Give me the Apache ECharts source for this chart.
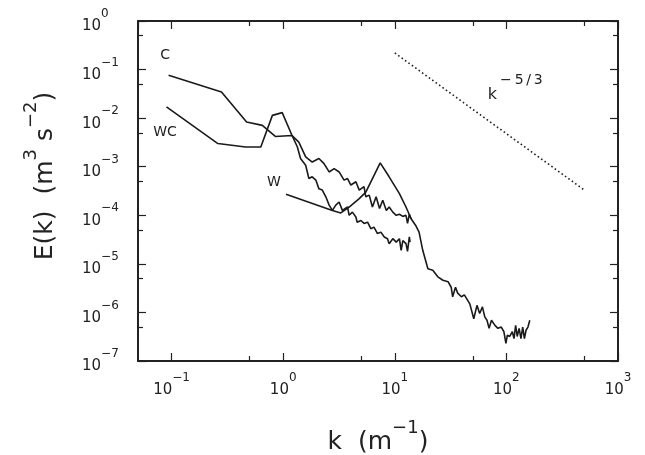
<!DOCTYPE html>
<html><head><meta charset="utf-8">
<script src="https://cdn.jsdelivr.net/npm/echarts@6/dist/echarts.min.js"></script>
<style>html,body{margin:0;padding:0;background:#fff}#c{width:645px;height:455px}</style>
</head><body><div id="c"></div>
<script>
// ---- tick values ----
const xMinorTicks = [0.5, 5, 50, 500];
const yMinorTicks = [0.5, 0.05, 0.005, 5e-4, 5e-5, 5e-6, 5e-7];

// ---- series C ----
const cK = [0.094, 0.28, 0.47, 0.65, 0.85, 1.2, 1.38, 1.59, 1.82, 2.09, 2.32, 2.58, 2.86, 3.17, 3.51, 3.77, 4.04, 4.48, 4.8, 5.3, 5.5, 5.9, 6.3, 6.8, 7.3, 7.8, 8.4, 8.9, 9.6, 10.3, 11, 11.8, 12.6, 13.0, 13.5, 14];
const cE = [0.076, 0.0345, 0.0083, 0.0071, 0.0042, 0.0044, 0.0032, 0.0016, 0.00125, 0.00148, 0.00116, 0.00078, 0.00091, 0.00078, 0.00053, 0.00057, 0.00042, 0.00049, 0.00033, 0.00039, 0.00024, 0.00026, 0.000148, 0.00024, 0.000138, 0.000204, 0.000126, 0.000148, 0.000116, 0.0001, 0.000105, 0.000095, 0.0001, 0.000068, 0.000105, 0.000085];

// ---- series WC ----
const wcK = [0.09, 0.26, 0.46, 0.63, 0.80, 0.98, 1.2, 1.34, 1.43, 1.59, 1.7, 1.82, 1.96, 2.09, 2.24, 2.41, 2.58, 2.76, 2.96, 3.17, 3.39, 3.77, 3.9, 4.17, 4.48, 4.6, 4.97, 5.3, 5.7, 6.1, 6.5, 7.0, 7.5, 8.05, 8.6, 8.9, 9.6, 10.3, 11, 11.4, 11.8, 12.6, 13, 13.5, 13.7];
const wcE = [0.017, 0.003, 0.00255, 0.00255, 0.0114, 0.013, 0.0044, 0.00255, 0.00148, 0.00107, 0.00057, 0.00062, 0.00053, 0.00035, 0.00033, 0.00024, 0.000162, 0.000126, 0.000162, 0.000188, 0.000126, 0.000148, 0.0001, 0.000116, 0.000092, 0.000072, 0.000078, 0.000068, 0.000072, 0.000053, 0.000057, 0.000042, 0.000045, 0.0000357, 0.000033, 0.000026, 0.000033, 0.000028, 0.000033, 0.000019, 0.00003, 0.000026, 0.000018, 0.000036, 0.000028];

// ---- series W ----
const wK = [1.06, 2.76, 3.28, 3.9, 4.8, 5.5, 7.4, 8.9, 11, 12.6, 14, 15.5, 16.5, 17.8, 19.8, 21.9, 24.3, 27, 30, 32, 33, 35, 36.6, 39.5, 42, 47, 51, 54.5, 57.6, 61, 64, 67, 70, 73.5, 79, 84, 90, 95, 99, 102, 107, 113, 117, 121, 125, 130, 135, 140, 145, 150, 156, 162];
const wE = [0.00027, 0.000126, 0.000112, 0.000148, 0.00022, 0.0003, 0.0012, 0.00062, 0.00028, 0.000148, 0.000085, 0.00006, 0.000045, 0.000019, 7.9e-6, 7.4e-6, 5.4e-6, 4.6e-6, 4.3e-6, 3.3e-6, 2.1e-6, 3.3e-6, 2.5e-6, 2.1e-6, 2.3e-6, 1.5e-6, 7.4e-7, 1.4e-6, 9.5e-7, 1.3e-6, 8.1e-7, 6.9e-7, 4.7e-7, 6.9e-7, 5.4e-7, 4.7e-7, 5e-7, 4e-7, 2.3e-7, 3.4e-7, 3.2e-7, 4e-7, 2.9e-7, 5.4e-7, 3.2e-7, 4.7e-7, 2.9e-7, 5e-7, 2.9e-7, 4.3e-7, 5e-7, 6.9e-7];

// ---- k^-5/3 reference ----
const refK = [10, 500];
const refE = [0.22, 3.3e-4];

const pairs = (a, b) => a.map((v, i) => [v, b[i]]);
const font = '"DejaVu Sans", "Liberation Sans", Arial, sans-serif';
const ink = '#222';
function expLabel(v) {
  const e = Math.round(Math.log10(v));
  return '{b|10}{s|' + (e < 0 ? '\u2212' + (-e) : e) + '}';
}
const rich = {
  b: {fontSize: 15, lineHeight: 26, verticalAlign: 'bottom', color: ink, fontFamily: font},
  s: {fontSize: 12, lineHeight: 12, verticalAlign: 'top', color: ink, fontFamily: font}
};
const nameRich = {
  n: {fontSize: 25, lineHeight: 36, verticalAlign: 'bottom', color: ink, fontFamily: font},
  s: {fontSize: 18, lineHeight: 18, verticalAlign: 'top', color: ink, fontFamily: font}
};
const frameLine = {show: true, onZero: false, lineStyle: {color: ink, width: 2}};
const majorTick = {show: true, inside: true, length: 8, lineStyle: {color: ink, width: 1.2}};

function minorAxis(pos, lo, hi, vals) {
  return {
    type: 'value', position: pos, min: lo, max: hi,
    axisLine: {show: false, onZero: false}, splitLine: {show: false}, axisLabel: {show: false},
    axisTick: {show: true, inside: true, length: 5, lineStyle: {color: ink, width: 1.2},
      customValues: vals.map(v => Math.log10(v))}
  };
}

const chart = echarts.init(document.getElementById('c'), null, {renderer: 'canvas'});
const lineStyle = {color: '#1a1a1a', width: 1.6};
chart.setOption({
  animation: false,
  backgroundColor: '#fff',
  grid: {left: 138, right: 27, top: 21, bottom: 94, containLabel: false, outerBoundsMode: 'none'},
  xAxis: [
    {type: 'log', logBase: 10, min: 0.05, max: 1000, position: 'bottom',
     axisLine: frameLine, axisTick: majorTick, splitLine: {show: false},
     axisLabel: {formatter: expLabel, rich: rich, margin: 11, showMinLabel: false},
     name: '{n|k  (m}{s|\u22121}{n|)}', nameLocation: 'middle', nameGap: 58,
     nameTextStyle: {rich: nameRich}},
    {type: 'log', logBase: 10, min: 0.05, max: 1000, position: 'top',
     axisLine: frameLine, axisTick: majorTick, splitLine: {show: false}, axisLabel: {show: false}},
    minorAxis('bottom', Math.log10(0.05), 3, xMinorTicks),
    minorAxis('top', Math.log10(0.05), 3, xMinorTicks)
  ],
  yAxis: [
    {type: 'log', logBase: 10, min: 1e-7, max: 1, position: 'left',
     axisLine: frameLine, axisTick: majorTick, splitLine: {show: false},
     axisLabel: {formatter: expLabel, rich: rich, margin: 56, align: 'left'},
     name: '{n|E(k)  (m}{s|3}{n| s}{s|\u22122}{n|)}', nameLocation: 'middle', nameGap: 80,
     nameTextStyle: {rich: nameRich, padding: [0, 0, 0, 30]}},
    {type: 'log', logBase: 10, min: 1e-7, max: 1, position: 'right',
     axisLine: frameLine, axisTick: majorTick, splitLine: {show: false}, axisLabel: {show: false}},
    minorAxis('left', -7, 0, yMinorTicks),
    minorAxis('right', -7, 0, yMinorTicks)
  ],
  series: [
    {name: 'C', type: 'line', data: pairs(cK, cE), showSymbol: false, lineStyle: lineStyle},
    {name: 'WC', type: 'line', data: pairs(wcK, wcE), showSymbol: false, lineStyle: lineStyle},
    {name: 'W', type: 'line', data: pairs(wK, wE), showSymbol: false, lineStyle: lineStyle},
    {name: 'ref', type: 'line', data: pairs(refK, refE), showSymbol: false,
     lineStyle: {color: '#222', width: 1.6, type: [1.6, 2.6]}}
  ]
});

function px(k, e) { return chart.convertToPixel({seriesIndex: 0}, [k, e]); }
const labelStyle = {fill: ink, fontSize: 14, fontFamily: font};
const pC = px(0.0874, 0.197), pWC = px(0.0874, 0.0052), pW = px(0.825, 4.8e-4), pK = px(75.6, 0.0295);
chart.setOption({graphic: [
  {type: 'text', x: pC[0], y: pC[1], style: Object.assign({text: 'C', align: 'center', verticalAlign: 'middle'}, labelStyle)},
  {type: 'text', x: pWC[0], y: pWC[1], style: Object.assign({text: 'WC', align: 'center', verticalAlign: 'middle'}, labelStyle)},
  {type: 'text', x: pW[0], y: pW[1], style: Object.assign({text: 'W', align: 'center', verticalAlign: 'middle'}, labelStyle)},
  {type: 'text', x: pK[0] - 5, y: pK[1] - 22, style: {
    text: '{n|k}{s|\u2212\u20095\u2009/\u20093}', rich: {
      n: {fontSize: 16, lineHeight: 30, verticalAlign: 'bottom', fill: ink, fontFamily: font},
      s: {fontSize: 14, lineHeight: 14, verticalAlign: 'top', fill: ink, fontFamily: font, padding: [0, 0, 0, 3]}
    }}}
]});
</script></body></html>
